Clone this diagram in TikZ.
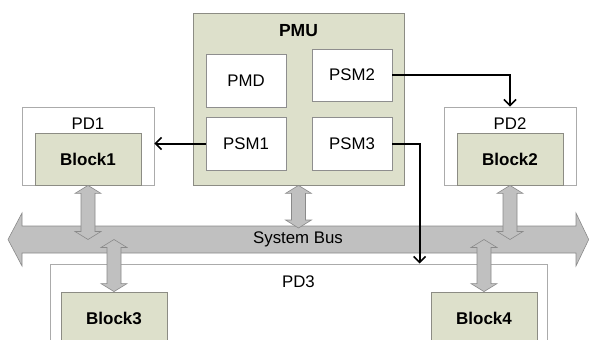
\documentclass[tikz,border=0pt]{standalone}
\usepackage{fontspec}
\setmainfont{Liberation Sans}
\usetikzlibrary{arrows.meta,calc}
\definecolor{olive}{HTML}{DDE0CB}
\definecolor{oliveline}{HTML}{8C8C84}
\definecolor{pdline}{HTML}{ABABAB}
\definecolor{wline}{HTML}{8E8E8E}
\definecolor{busfill}{HTML}{C0C0C0}
\definecolor{busline}{HTML}{8A8A8A}
\tikzset{
  txt/.style={font=\fontsize{16.8}{18}\selectfont, text=black},
  btxt/.style={font=\fontsize{17}{18}\selectfont\bfseries, text=black},
  pdbox/.style={draw=pdline, fill=white, line width=0.8pt, inner sep=0pt},
  blockbox/.style={draw=oliveline, fill=olive, line width=0.8pt, inner sep=0pt,
    minimum width=106pt, minimum height=52pt, btxt},
  pmubox/.style={draw=oliveline, fill=olive, line width=0.8pt, inner sep=0pt},
  smbox/.style={draw=wline, fill=white, line width=0.8pt, inner sep=0pt,
    minimum width=80pt, minimum height=53pt, txt},
  busarr/.style={draw=busline, fill=busfill, line width=0.6pt, line join=miter},
  ctrl/.style={draw=black, line width=2pt, -{Straight Barb[length=6pt,width=12pt,line width=1.6pt]}}
}
% vertical two-headed bus link between two points (top, bottom)
\newcommand\buslink[2]{%
  \draw[busarr] let \p1=(#1), \p2=(#2) in
    (\x1,\y1) -- (\x1+13pt,\y1-8pt) -- (\x1+7pt,\y1-8pt) -- (\x1+7pt,\y2+8pt)
    -- (\x1+13pt,\y2+8pt) -- (\x1,\y2) -- (\x1-13pt,\y2+8pt) -- (\x1-7pt,\y2+8pt)
    -- (\x1-7pt,\y1-8pt) -- (\x1-13pt,\y1-8pt) -- cycle;}
\begin{document}
\begin{tikzpicture}[x=1pt,y=-1pt]
\useasboundingbox (0,0) rectangle (589,340);
\clip (0,0) rectangle (589,340);

% power domains 1 and 2
\node[pdbox, minimum width=132pt, minimum height=78pt] (PD1) at (88,146) {};
\node[txt, anchor=center] (PD1l) at (88,124) {PD1};
\node[blockbox] (Block1) at (88,159) {Block1};

\node[pdbox, minimum width=132pt, minimum height=78pt] (PD2) at (510,146) {};
\node[txt, anchor=center] (PD2l) at (510,124) {PD2};
\node[blockbox] (Block2) at (510,159) {Block2};

% power management unit
\node[pmubox, minimum width=211pt, minimum height=172pt] (PMU) at (298.5,99) {};
\node[btxt, font=\fontsize{17.5}{18}\selectfont\bfseries] (PMUl) at (298.5,31) {PMU};
\node[smbox] (PMD)  at (246,80.5) {PMD};
\node[smbox, minimum height=52pt] (PSM2) at (352,75) {PSM2};
\node[smbox] (PSM1) at (246,143.5) {PSM1};
\node[smbox] (PSM3) at (352,143.5) {PSM3};

% system bus
\draw[busarr] (8,239.5) -- (22,213) -- (22,226) -- (576,226) -- (576,213)
  -- (588.7,239.5) -- (576,266) -- (576,253) -- (22,253) -- (22,266) -- cycle;
\node[txt] (bus) at (298,239.5) {System Bus};
\coordinate (bustop) at (298.5,228);

% power domain 3
\node[pdbox, minimum width=497pt, minimum height=100pt] (PD3) at (298.5,314) {};
\node[txt] (PD3l) at (298.5,282) {PD3};
\node[blockbox] (Block3) at (114,318) {Block3};
\node[blockbox] (Block4) at (484,318) {Block4};
\path (PD3.north west) ++(370,0) coordinate (pd3in);

% bus links
\buslink{Block1.south}{Block1.south |- bus}
\buslink{Block2.south}{Block2.south |- bus}
\buslink{PMU.south}{PMU.south |- bustop}
\buslink{Block3.north |- bus}{Block3.north}
\buslink{Block4.north |- bus}{Block4.north}

% control signals
\draw[ctrl] (PSM1.west) -- (PD1.east |- PSM1.west);
\draw[ctrl] (PSM2.east) -| (PD2.north);
\draw[ctrl] (PSM3.east) -| (pd3in);
\end{tikzpicture}
\end{document}
